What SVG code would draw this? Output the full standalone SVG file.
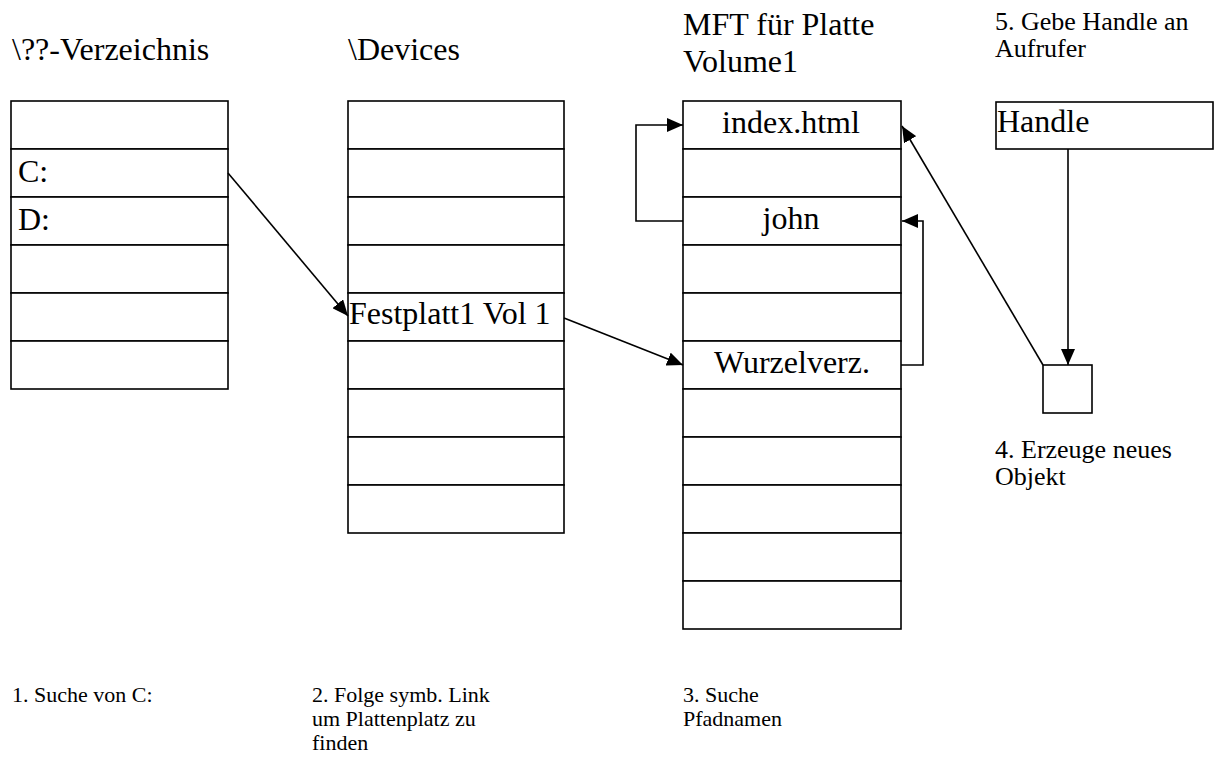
<svg xmlns="http://www.w3.org/2000/svg" width="1216" height="766" viewBox="0 0 1216 766">
<defs>
<style>
.cell{fill:#fff;stroke:#000;stroke-width:1.6}
.conn{fill:none;stroke:#000;stroke-width:1.6}
</style>
<marker id="ah" markerUnits="userSpaceOnUse" markerWidth="16" markerHeight="14" refX="16" refY="7" orient="auto">
<path d="M0,0 L16,7 L0,14 z" fill="#000"/>
</marker>
</defs>
<rect width="1216" height="766" fill="#fff"/>

<g font-family="Liberation Serif, Times New Roman, serif" fill="#000">
<g id="titles">
<text font-size="32" x="12" y="60">\??-Verzeichnis</text>
<text font-size="32" x="348" y="60">\Devices</text>
<text font-size="32" x="683" y="35">MFT für Platte</text>
<text font-size="32" x="683" y="72">Volume1</text>
<text font-size="26" x="995" y="30">5. Gebe Handle an</text>
<text font-size="26" x="995" y="57">Aufrufer</text>
</g>

<g id="verzeichnis">
<rect class="cell" x="11" y="101" width="217" height="48"/>
<rect class="cell" x="11" y="149" width="217" height="48"/>
<rect class="cell" x="11" y="197" width="217" height="48"/>
<rect class="cell" x="11" y="245" width="217" height="48"/>
<rect class="cell" x="11" y="293" width="217" height="48"/>
<rect class="cell" x="11" y="341" width="217" height="48"/>
<text font-size="32" x="18" y="182">C:</text>
<text font-size="32" x="18" y="230">D:</text>
</g>

<g id="devices">
<rect class="cell" x="348" y="101" width="216" height="48"/>
<rect class="cell" x="348" y="149" width="216" height="48"/>
<rect class="cell" x="348" y="197" width="216" height="48"/>
<rect class="cell" x="348" y="245" width="216" height="48"/>
<rect class="cell" x="348" y="293" width="216" height="48"/>
<rect class="cell" x="348" y="341" width="216" height="48"/>
<rect class="cell" x="348" y="389" width="216" height="48"/>
<rect class="cell" x="348" y="437" width="216" height="48"/>
<rect class="cell" x="348" y="485" width="216" height="48"/>
<text font-size="32" x="349" y="324">Festplatt1 Vol 1</text>
</g>

<g id="mft">
<rect class="cell" x="683" y="101" width="218" height="48"/>
<rect class="cell" x="683" y="149" width="218" height="48"/>
<rect class="cell" x="683" y="197" width="218" height="48"/>
<rect class="cell" x="683" y="245" width="218" height="48"/>
<rect class="cell" x="683" y="293" width="218" height="48"/>
<rect class="cell" x="683" y="341" width="218" height="48"/>
<rect class="cell" x="683" y="389" width="218" height="48"/>
<rect class="cell" x="683" y="437" width="218" height="48"/>
<rect class="cell" x="683" y="485" width="218" height="48"/>
<rect class="cell" x="683" y="533" width="218" height="48"/>
<rect class="cell" x="683" y="581" width="218" height="48"/>
<text font-size="32" x="791" y="133" text-anchor="middle">index.html</text>
<text font-size="32" x="791" y="229" text-anchor="middle">john</text>
<text font-size="32" x="792" y="373" text-anchor="middle">Wurzelverz.</text>
</g>

<g id="handle">
<rect class="cell" x="996" y="102" width="217" height="47"/>
<text font-size="32" x="997" y="132">Handle</text>
</g>

<g id="objekt">
<rect class="cell" x="1043" y="365" width="49" height="48"/>
<text font-size="26" x="995" y="458">4. Erzeuge neues</text>
<text font-size="26" x="995" y="485">Objekt</text>
</g>

<g id="steps">
<text font-size="22" x="12" y="702">1. Suche von C:</text>
<text font-size="22" x="312" y="702">2. Folge symb. Link</text>
<text font-size="22" x="312" y="726">um Plattenplatz zu</text>
<text font-size="22" x="312" y="750">finden</text>
<text font-size="22" x="683" y="702">3. Suche</text>
<text font-size="22" x="683" y="726">Pfadnamen</text>
</g>
</g>

<g id="connectors">
<path class="conn" d="M228,173 L348,316" marker-end="url(#ah)"/>
<path class="conn" d="M564,318 L683,365" marker-end="url(#ah)"/>
<path class="conn" d="M901,365 H923 V221 H902" marker-end="url(#ah)"/>
<path class="conn" d="M683,221 H636 V125 H683" marker-end="url(#ah)"/>
<path class="conn" d="M1068,149 V365" marker-end="url(#ah)"/>
<path class="conn" d="M1043,365 L902,126" marker-end="url(#ah)"/>
</g>
</svg>
